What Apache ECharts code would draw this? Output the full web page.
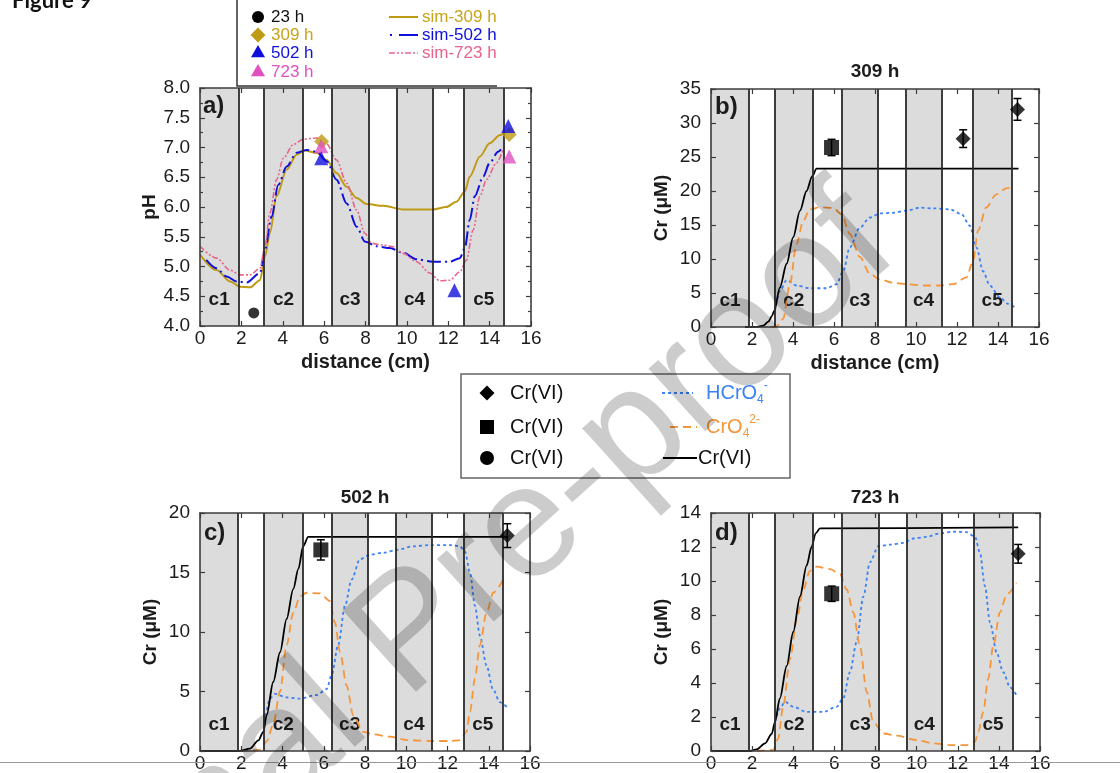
<!DOCTYPE html>
<html>
<head>
<meta charset="utf-8">
<script src="https://cdn.jsdelivr.net/npm/echarts@6/dist/echarts.min.js"></script>
<style>
  html, body { margin: 0; padding: 0; background: #fff; }
  #chart { width: 1120px; height: 773px; }
</style>
</head>
<body>
<div id="chart"></div>
<script>
// ---- column zones (cm) shared by all panels ----
const zoneNames = ['c1', 'c2', 'c3', 'c4', 'c5'];
const zoneStart = [0, 3.1, 6.37, 9.5, 12.77];
const zoneEnd = [1.85, 4.97, 8.14, 11.24, 14.66];
const zoneEdges = [1.85, 3.1, 4.97, 6.37, 8.14, 9.5, 11.24, 12.77, 14.66];

// ---- panel a: pH ----
const ph23 = [[2.6, 4.22]];
const ph309 = [[5.88, 7.1], [14.95, 7.22]];
const ph502 = [[5.86, 6.82], [12.3, 4.6], [14.9, 7.36]];
const ph723 = [[5.86, 7.02], [14.95, 6.85]];
const simPh309 = [[0, 5.2], [0.8, 4.94], [1.45, 4.75], [1.93, 4.66], [2.42, 4.65], [2.9, 4.77], [3.14, 5.17], [3.38, 5.56], [3.7, 6.18], [4.19, 6.63], [4.67, 6.88], [5.07, 6.95], [5.64, 6.91], [6.12, 6.79], [6.6, 6.57], [7.09, 6.34], [7.57, 6.15], [8.05, 6.05], [8.86, 6.02], [9.82, 5.96], [11.27, 5.96], [11.9, 6.0], [12.4, 6.09], [12.8, 6.26], [13.04, 6.51], [13.53, 6.85], [14.0, 7.07], [14.5, 7.21], [14.8, 7.27]];
const simPh502 = [[0.3, 5.11], [0.8, 4.97], [1.29, 4.83], [1.77, 4.75], [2.25, 4.73], [2.9, 4.89], [3.14, 5.28], [3.46, 5.84], [3.78, 6.37], [4.19, 6.68], [4.67, 6.91], [5.15, 6.96], [5.64, 6.93], [6.12, 6.77], [6.6, 6.46], [7.09, 6.06], [7.57, 5.67], [7.97, 5.42], [8.53, 5.34], [9.18, 5.31], [9.82, 5.23], [10.47, 5.12], [11.27, 5.08], [12.08, 5.08], [12.56, 5.14], [12.8, 5.31], [13.04, 5.78], [13.28, 6.18], [13.69, 6.51], [14.0, 6.74], [14.41, 6.93], [14.55, 6.97]];
const simPh723 = [[0, 5.34], [0.8, 5.14], [1.45, 4.94], [1.93, 4.86], [2.42, 4.86], [2.9, 4.97], [3.14, 5.34], [3.38, 5.9], [3.7, 6.46], [4.03, 6.82], [4.51, 7.05], [4.99, 7.14], [5.64, 7.16], [6.12, 7.06], [6.6, 6.79], [7.09, 6.4], [7.57, 5.95], [7.97, 5.56], [8.29, 5.39], [8.86, 5.36], [9.34, 5.33], [9.82, 5.22], [10.47, 5.08], [11.11, 4.89], [11.59, 4.76], [12.08, 4.77], [12.56, 4.91], [12.88, 5.11], [13.2, 5.61], [13.53, 6.18], [13.85, 6.46], [14.33, 6.74], [14.65, 6.96]];

// ---- panel b: 309 h ----
const sq309 = [[5.88, 26.4]];
const sqErr309 = [1.2];
const dia309 = [[12.3, 27.7], [14.95, 32.0]];
const diaErr309 = [1.3, 1.6];
const cr309 = [[1.66, 0], [2.2, 0.02], [2.55, 0.2], [2.8, 0.8], [2.96, 1.55], [3.09, 2.4], [3.36, 5.8], [3.69, 9.3], [4.01, 13.2], [4.34, 17.1], [4.66, 20.0], [4.94, 22.2], [5.15, 23.3], [15.0, 23.3]];
const cro4309 = [[2.96, 0], [3.2, 0.1], [3.52, 1.2], [3.85, 6.3], [4.17, 12.2], [4.5, 15.6], [4.82, 17.3], [5.31, 17.6], [5.96, 17.5], [6.37, 16.6], [6.77, 13.7], [7.26, 10.3], [7.75, 7.8], [8.24, 7.0], [8.89, 6.5], [9.54, 6.3], [10.35, 6.1], [11.16, 6.1], [11.81, 6.3], [12.46, 7.3], [12.78, 9.7], [13.03, 14.2], [13.43, 17.6], [13.92, 19.5], [14.41, 20.4], [14.8, 20.6]];
const hcro4309 = [[3.12, 2.4], [3.36, 5.3], [3.69, 6.9], [4.17, 6.1], [4.82, 5.7], [5.64, 5.7], [6.12, 6.3], [6.45, 8.2], [6.77, 11.7], [7.26, 14.6], [7.75, 16.1], [8.24, 16.7], [8.89, 16.8], [9.54, 17.1], [10.18, 17.55], [10.83, 17.45], [11.65, 17.3], [12.22, 16.6], [12.62, 14.9], [12.95, 11.7], [13.27, 8.2], [13.6, 6.1], [14.08, 4.4], [14.49, 3.4], [14.9, 2.7]];

// ---- panel c: 502 h ----
const sq502 = [[5.86, 16.9]];
const sqErr502 = [0.85];
const dia502 = [[14.9, 18.1]];
const diaErr502 = [1.0];
const cr502 = [[0, 0], [1.9, 0], [2.42, 0.2], [2.83, 0.9], [3.07, 1.6], [3.23, 3.0], [3.55, 5.8], [3.88, 8.3], [4.2, 11.1], [4.52, 13.6], [4.77, 15.3], [5.0, 17.2], [5.25, 18.0], [14.95, 18.0]];
const cro4502 = [[1.94, 0], [2.9, 0.1], [3.23, 0.8], [3.55, 2.2], [3.88, 5.0], [4.2, 8.9], [4.52, 11.6], [4.85, 13.0], [5.17, 13.3], [5.82, 13.25], [6.3, 12.6], [6.54, 10.8], [6.79, 8.3], [7.11, 5.5], [7.43, 3.0], [7.92, 1.6], [8.4, 1.4], [9.21, 1.2], [10.02, 0.92], [11.15, 0.84], [12.12, 0.84], [12.6, 0.92], [12.92, 1.6], [13.09, 3.3], [13.33, 6.1], [13.57, 8.9], [13.89, 11.6], [14.22, 13.3], [14.7, 14.4]];
const hcro4502 = [[3.15, 2.45], [3.39, 4.4], [3.63, 4.8], [4.2, 4.5], [4.85, 4.4], [5.65, 4.7], [6.14, 5.2], [6.38, 6.35], [6.7, 8.9], [7.03, 12.2], [7.35, 14.4], [7.75, 16.1], [8.24, 16.5], [8.89, 16.66], [9.53, 16.9], [10.34, 17.2], [11.15, 17.3], [12.12, 17.3], [12.6, 17.2], [12.84, 16.8], [13.09, 15.0], [13.33, 12.2], [13.57, 9.7], [13.89, 7.2], [14.2, 5.2], [14.54, 4.1], [14.94, 3.6]];

// ---- panel d: 723 h ----
const sq723 = [[5.87, 9.25]];
const sqErr723 = [0.45];
const dia723 = [[14.94, 11.6]];
const diaErr723 = [0.55];
const cr723 = [[0, 0], [1.9, 0], [2.22, 0.1], [2.63, 0.45], [2.95, 1.0], [3.11, 1.7], [3.35, 3.1], [3.68, 5.0], [4.0, 7.0], [4.33, 9.1], [4.65, 10.9], [4.89, 12.0], [5.09, 12.8], [5.3, 13.1], [14.94, 13.15]];
const cro4723 = [[2.22, 0], [3.03, 0.06], [3.27, 0.74], [3.52, 2.7], [3.84, 5.4], [4.17, 7.75], [4.49, 9.5], [4.81, 10.6], [5.14, 10.84], [5.79, 10.7], [6.27, 10.4], [6.6, 9.5], [6.92, 8.15], [7.24, 6.2], [7.57, 3.5], [7.89, 1.7], [8.38, 1.03], [9.03, 0.9], [10.0, 0.64], [10.81, 0.45], [11.62, 0.35], [12.43, 0.35], [12.84, 0.55], [13.0, 1.13], [13.24, 2.3], [13.48, 4.25], [13.73, 6.2], [14.05, 8.15], [14.38, 9.2], [14.86, 9.9]];
const hcro4723 = [[3.11, 1.7], [3.35, 2.5], [3.6, 2.9], [4.0, 2.6], [4.65, 2.3], [5.46, 2.3], [6.11, 2.6], [6.43, 3.1], [6.76, 4.64], [7.08, 6.4], [7.41, 9.1], [7.73, 11.1], [8.14, 12.05], [8.7, 12.14], [9.35, 12.24], [9.84, 12.5], [10.49, 12.6], [11.13, 12.8], [11.78, 12.9], [12.43, 12.87], [12.84, 12.6], [13.08, 11.66], [13.32, 9.7], [13.57, 7.56], [13.89, 5.8], [14.21, 4.64], [14.54, 3.76], [14.86, 3.27]];

// ---- axis ticks ----
const xTicks = { min: 0, max: 16, interval: 2 };
const yTicksA = { min: 4, max: 8, interval: 0.5 };
const yTicksB = { min: 0, max: 35, interval: 5 };
const yTicksC = { min: 0, max: 20, interval: 5 };
const yTicksD = { min: 0, max: 14, interval: 2 };

const FONT = 'Liberation Sans';
const AXIS_COLOR = '#3c3c3c';
const TEXT_COLOR = '#1c1c1c';
const C_TOTAL = '#000000';
const C_CRO4 = '#f7953a';
const C_HCRO4 = '#3a82f5';
const C_309 = '#bf9a14';
const C_502 = '#1010dc';
const C_723 = '#e8648a';
const C_723PT = '#e050c0';

const grids = [
  { left: 200, top: 88, width: 331, height: 238 },
  { left: 711, top: 89, width: 328, height: 238 },
  { left: 200, top: 513, width: 330, height: 240 },
  { left: 711, top: 513, width: 329, height: 240 }
];
const yRanges = [yTicksA, yTicksB, yTicksC, yTicksD];

const xAxes = [];
const yAxes = [];
grids.forEach((g, i) => {
  xAxes[i] = {
    gridIndex: i, type: 'value', position: 'bottom', min: xTicks.min, max: xTicks.max, interval: xTicks.interval,
    z: 10,
    axisLine: { show: true, onZero: false, lineStyle: { color: AXIS_COLOR, width: 1.6 } },
    axisTick: { show: true, inside: true, length: 5, lineStyle: { color: AXIS_COLOR, width: 1.2 } },
    axisLabel: { fontFamily: FONT, fontSize: 19, color: TEXT_COLOR, margin: 3 },
    splitLine: { show: false },
    name: i < 2 ? 'distance (cm)' : '', nameLocation: 'middle', nameGap: 26,
    nameTextStyle: { fontFamily: FONT, fontSize: 20, fontWeight: 'bold', color: TEXT_COLOR }
  };
  xAxes[i + 4] = {
    gridIndex: i, type: 'value', position: 'top', min: xTicks.min, max: xTicks.max, interval: xTicks.interval,
    z: 10,
    axisLine: { show: true, onZero: false, lineStyle: { color: AXIS_COLOR, width: 1.6 } },
    axisTick: { show: true, inside: true, length: 5, lineStyle: { color: AXIS_COLOR, width: 1.2 } },
    axisLabel: { show: false }, splitLine: { show: false }
  };
  const r = yRanges[i];
  const minor = i === 0 ? { show: true, splitNumber: 2, length: 3, lineStyle: { color: AXIS_COLOR, width: 1.2 } } : { show: false };
  yAxes[i] = {
    gridIndex: i, type: 'value', position: 'left', min: r.min, max: r.max, interval: r.interval,
    z: 10,
    axisLine: { show: true, onZero: false, lineStyle: { color: AXIS_COLOR, width: 1.6 } },
    axisTick: { show: true, inside: true, length: 5, lineStyle: { color: AXIS_COLOR, width: 1.2 } },
    minorTick: minor,
    axisLabel: {
      fontFamily: FONT, fontSize: 19, color: TEXT_COLOR, margin: 10,
      formatter: i === 0 ? (v => v.toFixed(1)) : (v => String(v))
    },
    splitLine: { show: false },
    name: i === 0 ? 'pH' : 'Cr (\u03bcM)', nameLocation: 'middle', nameGap: i === 0 ? 33 : 40,
    nameTextStyle: { fontFamily: FONT, fontSize: 19, fontWeight: 'bold', color: TEXT_COLOR }
  };
  yAxes[i + 4] = {
    gridIndex: i, type: 'value', position: 'right', min: r.min, max: r.max, interval: r.interval,
    z: 10,
    axisLine: { show: true, onZero: false, lineStyle: { color: AXIS_COLOR, width: 1.6 } },
    axisTick: { show: true, inside: true, length: 5, lineStyle: { color: AXIS_COLOR, width: 1.2 } },
    minorTick: minor,
    axisLabel: { show: false }, splitLine: { show: false }
  };
});

// shaded column zones with their c1..c5 labels
function zoneSeries(i) {
  return {
    type: 'scatter', xAxisIndex: i, yAxisIndex: i, data: [], z: 1, silent: true, animation: false,
    markArea: {
      silent: true, animation: false,
      itemStyle: { color: '#dcdcdc' },
      label: { show: true, position: 'insideBottom', distance: 17, fontFamily: FONT, fontWeight: 'bold', fontSize: 19, color: TEXT_COLOR },
      data: zoneNames.map((n, k) => [{ xAxis: zoneStart[k], name: n }, { xAxis: zoneEnd[k] }])
    }
  };
}
// vertical zone boundaries
function edgeSeries(i) {
  return {
    type: 'scatter', xAxisIndex: i, yAxisIndex: i, data: [], z: 2, silent: true, animation: false,
    markLine: {
      silent: true, animation: false, symbol: ['none', 'none'],
      label: { show: false },
      lineStyle: { color: '#2a2a2a', width: 1.8, type: 'solid' },
      data: zoneEdges.map(v => ({ xAxis: v }))
    }
  };
}
function curve(i, data, color, type, width) {
  return {
    type: 'line', xAxisIndex: i, yAxisIndex: i, data, showSymbol: false, smooth: 0.3, smoothMonotone: 'x',
    lineStyle: { color, type, width }, z: 3, silent: true, animation: false
  };
}
function marks(i, data, symbol, size, color) {
  return {
    type: 'scatter', xAxisIndex: i, yAxisIndex: i, data, symbol, symbolSize: size,
    itemStyle: { color }, z: 6, silent: true, animation: false
  };
}
function errorBars(i, data, errs) {
  return {
    type: 'custom', xAxisIndex: i, yAxisIndex: i, z: 5, silent: true, animation: false,
    encode: { x: 0, y: [1, 2] },
    data: data.map((p, k) => [p[0], p[1] - errs[k], p[1] + errs[k]]),
    renderItem: (params, api) => {
      const lo = api.coord([api.value(0), api.value(1)]);
      const hi = api.coord([api.value(0), api.value(2)]);
      const w = 4;
      const st = { stroke: '#000', lineWidth: 1.5 };
      return {
        type: 'group', children: [
          { type: 'line', shape: { x1: lo[0], y1: lo[1], x2: hi[0], y2: hi[1] }, style: st },
          { type: 'line', shape: { x1: lo[0] - w, y1: lo[1], x2: lo[0] + w, y2: lo[1] }, style: st },
          { type: 'line', shape: { x1: hi[0] - w, y1: hi[1], x2: hi[0] + w, y2: hi[1] }, style: st }
        ]
      };
    }
  };
}

const DASH_CRO4 = [8, 5];
const DASH_HCRO4 = [3, 3];
const series = [];
for (let i = 0; i < 4; i++) { series.push(zoneSeries(i), edgeSeries(i)); }
// panel a
series.push(
  curve(0, simPh309, C_309, 'solid', 2),
  curve(0, simPh502, C_502, [14, 4, 2, 4], 2),
  curve(0, simPh723, C_723, [6, 2, 2, 2, 2, 2], 1.6),
  marks(0, ph23, 'circle', 11, '#000'),
  marks(0, ph309, 'diamond', 15, C_309),
  marks(0, ph723, 'triangle', 14, C_723PT),
  marks(0, ph502, 'triangle', 14, C_502)
);
// panels b-d
const crSets = [
  [1, cr309, cro4309, hcro4309, sq309, sqErr309, dia309, diaErr309],
  [2, cr502, cro4502, hcro4502, sq502, sqErr502, dia502, diaErr502],
  [3, cr723, cro4723, hcro4723, sq723, sqErr723, dia723, diaErr723]
];
crSets.forEach(([i, tot, cro4, hcro4, sq, sqe, dia, diae]) => {
  series.push(
    curve(i, hcro4, C_HCRO4, DASH_HCRO4, 1.8),
    curve(i, cro4, C_CRO4, DASH_CRO4, 1.8),
    curve(i, tot, C_TOTAL, 'solid', 1.8),
    errorBars(i, sq, sqe),
    errorBars(i, dia, diae),
    marks(i, sq, 'rect', 15, '#000'),
    marks(i, dia, 'diamond', 15, '#000')
  );
});

// ---- free-standing texts and legends ----
function txt(x, y, text, opts) {
  return {
    type: 'text', x, y, z: 50, silent: true,
    style: Object.assign({ text, fontFamily: FONT, fontSize: 17, fill: TEXT_COLOR, textAlign: 'left', textVerticalAlign: 'middle' }, opts || {})
  };
}
function hline(x1, x2, y, color, width, dash) {
  return { type: 'line', z: 50, silent: true, shape: { x1, y1: y, x2, y2: y }, style: { stroke: color, lineWidth: width, lineDash: dash || null } };
}
function diamond(cx, cy, r, color) {
  return { type: 'polygon', z: 50, silent: true, shape: { points: [[cx, cy - r], [cx + r, cy], [cx, cy + r], [cx - r, cy]] }, style: { fill: color } };
}
function tri(cx, cy, r, color) {
  return { type: 'polygon', z: 50, silent: true, shape: { points: [[cx, cy - r], [cx + r, cy + r * 0.75], [cx - r, cy + r * 0.75]] }, style: { fill: color } };
}

const graphics = [
  // page heading
  txt(12, -10, 'Figure 9', { fontFamily: 'Lato', fontWeight: 'bold', fontSize: 22, fill: '#111', textVerticalAlign: 'top' }),
  // pH legend frame
  { type: 'polyline', z: 50, silent: true, shape: { points: [[237, 0], [237, 86], [497, 86]] }, style: { stroke: '#333', lineWidth: 1.5, fill: null } },
  { type: 'circle', z: 50, silent: true, shape: { cx: 258, cy: 17, r: 6 }, style: { fill: '#000' } },
  txt(271, 17, '23 h', { fill: '#111' }),
  diamond(258, 35, 7.5, C_309),
  txt(271, 35, '309 h', { fill: '#c8a31c' }),
  tri(258, 52, 7, C_502),
  txt(271, 53, '502 h', { fill: C_502 }),
  tri(258, 71, 7, C_723PT),
  txt(271, 72, '723 h', { fill: C_723PT }),
  hline(389, 418, 17, C_309, 2),
  txt(422, 17, 'sim-309 h', { fill: '#c8a31c' }),
  hline(390, 392, 35, C_502, 2),
  hline(399, 418, 35, C_502, 2),
  txt(422, 35, 'sim-502 h', { fill: C_502 }),
  hline(389, 418, 53, C_723, 1.5, [6, 2, 2, 2, 2, 2]),
  txt(422, 53, 'sim-723 h', { fill: C_723 }),
  // panel tags and titles
  txt(203, 106, 'a)', { fontWeight: 'bold', fontSize: 24 }),
  txt(715, 107, 'b)', { fontWeight: 'bold', fontSize: 24 }),
  txt(204, 533, 'c)', { fontWeight: 'bold', fontSize: 24 }),
  txt(715, 533, 'd)', { fontWeight: 'bold', fontSize: 24 }),
  txt(875, 72, '309 h', { fontWeight: 'bold', fontSize: 19, textAlign: 'center' }),
  txt(365, 498, '502 h', { fontWeight: 'bold', fontSize: 19, textAlign: 'center' }),
  txt(875, 498, '723 h', { fontWeight: 'bold', fontSize: 19, textAlign: 'center' }),
  // species legend
  { type: 'rect', z: 50, silent: true, shape: { x: 461, y: 374, width: 329, height: 104 }, style: { stroke: '#666', lineWidth: 1.5, fill: null } },
  diamond(487, 393, 7.5, '#000'),
  txt(510, 393, 'Cr(VI)', { fontSize: 20, fill: '#111' }),
  { type: 'rect', z: 50, silent: true, shape: { x: 480, y: 420, width: 14, height: 14 }, style: { fill: '#000' } },
  txt(510, 427, 'Cr(VI)', { fontSize: 20, fill: '#111' }),
  { type: 'circle', z: 50, silent: true, shape: { cx: 487, cy: 458, r: 7 }, style: { fill: '#000' } },
  txt(510, 458, 'Cr(VI)', { fontSize: 20, fill: '#111' }),
  hline(662, 693, 393, C_HCRO4, 2, DASH_HCRO4),
  {
    type: 'text', x: 706, y: 393, z: 50, silent: true,
    style: {
      text: '{m|HCrO}{s|4}{p|-}', textVerticalAlign: 'middle',
      rich: {
        m: { fontFamily: FONT, fontSize: 20, fill: C_HCRO4, lineHeight: 26 },
        s: { fontFamily: FONT, fontSize: 12, fill: C_HCRO4, verticalAlign: 'bottom', lineHeight: 12 },
        p: { fontFamily: FONT, fontSize: 12, fill: C_HCRO4, verticalAlign: 'top', lineHeight: 12 }
      }
    }
  },
  hline(670, 697, 427, C_CRO4, 2, DASH_CRO4),
  {
    type: 'text', x: 706, y: 427, z: 50, silent: true,
    style: {
      text: '{m|CrO}{s|4}{p|2-}', textVerticalAlign: 'middle',
      rich: {
        m: { fontFamily: FONT, fontSize: 20, fill: C_CRO4, lineHeight: 26 },
        s: { fontFamily: FONT, fontSize: 12, fill: C_CRO4, verticalAlign: 'bottom', lineHeight: 12 },
        p: { fontFamily: FONT, fontSize: 12, fill: C_CRO4, verticalAlign: 'top', lineHeight: 12 }
      }
    }
  },
  hline(663, 697, 458, '#000', 1.8),
  txt(698, 458, 'Cr(VI)', { fontSize: 20, fill: '#111' }),
  // page edge at the bottom
  hline(0, 1120, 762.5, '#9a9a9a', 1),
  // diagonal watermark
  {
    type: 'text', x: 413, y: 635, rotation: 42 * Math.PI / 180, z: 100, silent: true,
    style: { text: 'Journal Pre-proof', fontFamily: FONT, fontSize: 160, fill: 'rgba(0,0,0,0.2)', textAlign: 'center', textVerticalAlign: 'middle' }
  }
];

const chart = echarts.init(document.getElementById('chart'), null, { renderer: 'canvas' });
chart.setOption({
  animation: false,
  backgroundColor: '#ffffff',
  grid: grids.map(g => Object.assign({ containLabel: false }, g)),
  xAxis: xAxes,
  yAxis: yAxes,
  series,
  graphic: graphics
});
</script>
</body>
</html>
